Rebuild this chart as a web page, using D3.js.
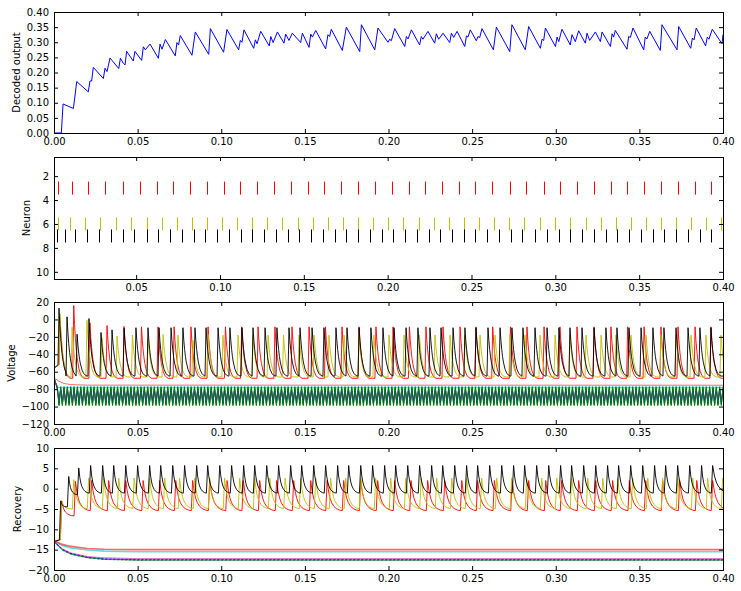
<!DOCTYPE html>
<html><head><meta charset="utf-8">
<script src="https://cdn.jsdelivr.net/npm/d3@7"></script>
<style>
body{margin:0;background:#fff}
svg text{font-family:"DejaVu Sans",sans-serif}
</style>
</head><body>
<svg id="chart" width="741" height="591"></svg>
<script>
// ---------------- DATA ----------------
const X_DOMAIN = [0, 0.4];
const RASTER_X_DOMAIN = [0.001, 0.4];
const X_TICKS = [0, 0.05, 0.10, 0.15, 0.20, 0.25, 0.30, 0.35, 0.40];
const RASTER_X_TICKS = [0.05, 0.10, 0.15, 0.20, 0.25, 0.30, 0.35, 0.40];
const DECODED_Y_TICKS = [0, 0.05, 0.10, 0.15, 0.20, 0.25, 0.30, 0.35, 0.40];
const NEURON_Y_TICKS = [2, 4, 6, 8, 10];
const VOLT_Y_TICKS = [-120, -100, -80, -60, -40, -20, 0, 20];
const REC_Y_TICKS = [-20, -15, -10, -5, 0, 5, 10];
const Y_LABELS = ["Decoded output", "Neuron", "Voltage", "Recovery"];
const NEURON_COLORS = ["#0000ff","#008000","#ff0000","#00bfbf","#bf00bf","#bfbf00","#000000","#0000ff","#008000","#ff0000"];

// decoded output vertices [time, value]
const DECODED = [
[0,0],[0.0044,0],[0.0054,0.096],[0.0116,0.081],[0.0136,0.170],[0.0205,0.136],[0.0215,0.172],[0.0225,0.172],
[0.0235,0.217],[0.0295,0.180],[0.0305,0.214],[0.0317,0.203],[0.0335,0.248],[0.0387,0.213],[0.0397,0.247],
[0.0415,0.230],[0.0425,0.225],[0.0434,0.270],[0.0474,0.238],[0.0484,0.270],[0.0524,0.240],[0.0534,0.285],
[0.0546,0.275],[0.0574,0.294],[0.0624,0.247],[0.0634,0.294],[0.0646,0.277],[0.0666,0.309],[0.0725,0.255],
[0.0735,0.299],[0.0745,0.291],[0.0755,0.322],[0.0825,0.257],[0.0845,0.334],[0.0925,0.260],[0.0935,0.345],
[0.1014,0.267],[0.1034,0.342],[0.1104,0.275],[0.1114,0.306],[0.1124,0.300],[0.1136,0.341],[0.1194,0.280],
[0.1204,0.308],[0.1214,0.295],[0.1236,0.336],[0.1287,0.288],[0.1296,0.319],[0.1310,0.299],[0.1336,0.334],
[0.1375,0.297],[0.1385,0.327],[0.1405,0.306],[0.1425,0.330],[0.1475,0.299],[0.1485,0.330],[0.1525,0.283],
[0.1535,0.327],[0.1545,0.317],[0.1565,0.339],[0.1624,0.278],[0.1638,0.325],[0.1648,0.319],[0.1658,0.343],
[0.1724,0.273],[0.1748,0.350],[0.1828,0.269],[0.1838,0.358],[0.1918,0.275],[0.1937,0.347],[0.1997,0.300],
[0.2007,0.310],[0.2017,0.305],[0.2037,0.345],[0.2097,0.286],[0.2107,0.319],[0.2117,0.311],[0.2137,0.341],
[0.2186,0.291],[0.2196,0.319],[0.2206,0.310],[0.2236,0.336],[0.2276,0.297],[0.2286,0.328],[0.2300,0.310],
[0.2326,0.330],[0.2366,0.299],[0.2376,0.330],[0.2390,0.316],[0.2410,0.336],[0.2456,0.286],[0.2466,0.321],
[0.2475,0.317],[0.2489,0.341],[0.2525,0.305],[0.2535,0.319],[0.2545,0.315],[0.2559,0.345],[0.2627,0.275],
[0.2645,0.350],[0.2725,0.269],[0.2738,0.358],[0.2818,0.275],[0.2838,0.352],[0.2908,0.280],[0.2918,0.310],
[0.2928,0.306],[0.2938,0.347],[0.2998,0.286],[0.3008,0.317],[0.3018,0.302],[0.3037,0.343],[0.3087,0.291],
[0.3097,0.325],[0.3117,0.302],[0.3137,0.338],[0.3177,0.297],[0.3187,0.330],[0.3203,0.306],[0.3237,0.334],
[0.3267,0.302],[0.3277,0.334],[0.3327,0.286],[0.3337,0.328],[0.3346,0.317],[0.3356,0.339],[0.3426,0.277],
[0.3436,0.319],[0.3446,0.316],[0.3462,0.347],[0.3526,0.275],[0.3535,0.317],[0.3545,0.311],[0.3562,0.336],
[0.3625,0.273],[0.3635,0.358],[0.3725,0.275],[0.3735,0.352],[0.3807,0.280],[0.3817,0.314],[0.3827,0.308],
[0.3840,0.347],[0.3896,0.288],[0.3906,0.317],[0.3916,0.310],[0.3936,0.343],[0.3994,0.295],[0.4000,0.325]
];

// spike times read from the raster (neuron 3 red, 6 yellow, 7 black)
const SPIKES_N3 = [0.0036,0.0118,0.0215,0.0317,0.0419,0.0523,0.0622,0.0718,0.0819,0.0921,0.1025,0.1122,
 0.1220,0.1321,0.1423,0.1525,0.1623,0.1722,0.1824,0.1925,0.2027,0.2125,0.2224,0.2326,0.2428,0.2523,0.2623,
 0.2729,0.2828,0.2930,0.3025,0.3127,0.3229,0.3330,0.3430,0.3528,0.3629,0.3731,0.3833,0.3928];
const SPIKES_N6 = [0.0036,0.0108,0.0197,0.0287,0.0377,0.0469,0.0562,0.0652,0.0741,0.0831,0.0921,0.1010,0.1100,
 0.1190,0.1280,0.1372,0.1465,0.1555,0.1644,0.1734,0.1824,0.1913,0.2003,0.2093,0.2185,0.2278,0.2368,0.2457,
 0.2547,0.2637,0.2726,0.2816,0.2906,0.2996,0.3085,0.3181,0.3271,0.3360,0.3450,0.3540,0.3629,0.3719,0.3809,
 0.3898,0.3988];
const SPIKES_N7 = [0.0030,0.0078,0.0138,0.0209,0.0281,0.0347,0.0419,0.0490,0.0562,0.0628,0.0700,0.0771,0.0843,
 0.0909,0.0981,0.1052,0.1124,0.1190,0.1262,0.1333,0.1405,0.1471,0.1543,0.1614,0.1686,0.1752,0.1824,0.1895,
 0.1967,0.2033,0.2105,0.2176,0.2248,0.2314,0.2386,0.2457,0.2523,0.2595,0.2667,0.2738,0.2804,0.2876,0.2948,
 0.3019,0.3085,0.3157,0.3229,0.3300,0.3366,0.3438,0.3510,0.3581,0.3647,0.3719,0.3791,0.3862,0.3928];

// voltage spike peaks (first spikes read individually, then steady value)
const V_PEAKS_N3 = [2, 16, -4, -7, -8];
const V_PEAKS_N6 = [6.5, -9, -1, -21, -19, -18, -22, -17, -18, -24, -17];
const V_PEAKS_N7 = [13, 3, -17, 1, -15, -12, -10];
const V_STEADY_PEAK = {3: -8.5, 6: -18, 7: -9.5};
const V_RESET = {3: -67.5, 6: -66, 7: -65};
const V_START = [-56, -52];
// voltage shape after a spike: [seconds after spike, fraction of height above reset]
const V_SPIKE_SHAPE = [[0,1],[0.0005,0.74],[0.001,0.55],[0.0015,0.40],[0.002,0.29],[0.003,0.14],[0.004,0.06],[0.005,0.02],[0.006,0]];

// recovery peaks/troughs for spiking neurons (first values read, then steady)
const U_PEAKS_N3 = [-3, 1.8], U_TROUGHS_N3 = [-6.7];
const U_PEAKS_N6 = [-3, 2.2], U_TROUGHS_N6 = [-5.0];
const U_PEAKS_N7 = [-3, 3.0, 5.1], U_TROUGHS_N7 = [-4.5, -1.5];
const U_STEADY = {3: [2.0, -5.4], 6: [2.6, -4.9], 7: [5.7, -1.1]};
// decay of recovery between spikes: [fraction of interval, fraction of height above trough]
const U_DECAY_SHAPE = [[0,1],[0.1,0.62],[0.2,0.4],[0.3,0.26],[0.45,0.14],[0.6,0.07],[0.8,0.02],[1,0]];

// non-spiking neurons, voltage: fast alternation between two levels (1 ms samples)
const V_OSC = [
  {id:1, hi:-79, lo:-96},
  {id:2, hi:-78, lo:-98},
  {id:4, hi:-76.5, lo:-79},
  {id:5, hi:-82, lo:-92},
  {id:8, hi:-80, lo:-97},
  {id:9, hi:-77.5, lo:-99}
];
const V_N10 = [[0,-67],[0.003,-71],[0.006,-73.5],[0.01,-74.8],[0.02,-75.4],[0.4,-75.5]];
// non-spiking neurons, recovery curves
const U_N1 = [[0,-13],[0.005,-15.0],[0.01,-16.0],[0.02,-16.9],[0.03,-17.3],[0.05,-17.5],[0.4,-17.5]];
const U_N2 = [[0,-13],[0.005,-15.1],[0.01,-16.1],[0.02,-17.0],[0.03,-17.4],[0.05,-17.6],[0.4,-17.6]];
const U_N4 = [[0,-13],[0.005,-14.0],[0.01,-14.6],[0.02,-15.1],[0.03,-15.35],[0.05,-15.5],[0.4,-15.5]];
const U_N5 = [[0,-13],[0.005,-14.8],[0.01,-15.8],[0.02,-16.7],[0.03,-17.0],[0.05,-17.2],[0.4,-17.2]];
const U_N8 = [[0,-13],[0.005,-14.9],[0.01,-15.9],[0.02,-16.85],[0.03,-17.25],[0.05,-17.45],[0.4,-17.45]];
const U_N9 = [[0,-13],[0.005,-15.1],[0.01,-16.1],[0.02,-17.0],[0.03,-17.4],[0.05,-17.55],[0.4,-17.55]];
const U_N10 = [[0,-12.8],[0.005,-13.7],[0.01,-14.2],[0.02,-14.7],[0.03,-14.9],[0.05,-15.0],[0.4,-15.0]];
const SAMPLE_DT = 0.001;

// ---------------- LAYOUT ----------------
const L = 54, R = 723;
const PANELS = [{top:12,bottom:133},{top:157,bottom:279},{top:302,bottom:424},{top:448,bottom:570}];
const LABEL_X = [16, 26, 11, 17.5];

const svg = d3.select("#chart");
const x = d3.scaleLinear().domain(X_DOMAIN).range([L, R]);
const xr = d3.scaleLinear().domain(RASTER_X_DOMAIN).range([L, R]);
const y0 = d3.scaleLinear().domain([0, 0.4]).range([PANELS[0].bottom, PANELS[0].top]);
const y1 = d3.scaleLinear().domain([0.4, 10.6]).range([PANELS[1].top, PANELS[1].bottom]);
const y2 = d3.scaleLinear().domain([-120, 20]).range([PANELS[2].bottom, PANELS[2].top]);
const y3 = d3.scaleLinear().domain([-20, 10]).range([PANELS[3].bottom, PANELS[3].top]);

const defs = svg.append("defs");
PANELS.forEach((p, i) => {
  defs.append("clipPath").attr("id", "clip" + i).append("rect")
    .attr("x", L + 0.5).attr("y", p.top + 0.5).attr("width", R - L).attr("height", p.bottom - p.top);
});

function drawAxes(i, xs, ys, xt, yt, xf, yf) {
  const p = PANELS[i];
  const g = svg.append("g");
  const style = sel => {
    sel.select(".domain").remove();
    sel.attr("font-family", "DejaVu Sans").attr("font-size", 10).attr("color", "#000");
    sel.selectAll("line").attr("stroke-width", 1);
  };
  g.append("g").attr("transform", `translate(0,${p.bottom})`)
    .call(d3.axisBottom(xs).tickValues(xt).tickFormat(xf).tickSize(-4).tickSizeOuter(0).tickPadding(5)).call(style);
  g.append("g").attr("transform", `translate(0,${p.top})`)
    .call(d3.axisTop(xs).tickValues(xt).tickFormat(() => "").tickSize(-4).tickSizeOuter(0)).call(style);
  g.append("g").attr("transform", `translate(${L},0)`)
    .call(d3.axisLeft(ys).tickValues(yt).tickFormat(yf).tickSize(-4).tickSizeOuter(0).tickPadding(5)).call(style);
  g.append("g").attr("transform", `translate(${R},0)`)
    .call(d3.axisRight(ys).tickValues(yt).tickFormat(() => "").tickSize(-4).tickSizeOuter(0)).call(style);
  g.append("rect").attr("x", L + 0.5).attr("y", p.top + 0.5).attr("width", R - L).attr("height", p.bottom - p.top)
    .attr("fill", "none").attr("stroke", "#000").attr("stroke-width", 1);
  svg.append("text").attr("transform", `translate(${LABEL_X[i]},${(p.top + p.bottom) / 2}) rotate(-90)`)
    .attr("text-anchor", "middle").attr("dominant-baseline", "central")
    .attr("font-size", 10).attr("fill", "#000").text(Y_LABELS[i]);
}

const f2 = d3.format(".2f");
const fi = d3.format("d");

// ---------- Panel 1: decoded output ----------
const line0 = d3.line().x(d => x(d[0])).y(d => y0(d[1]));
svg.append("g").attr("clip-path", "url(#clip0)").append("path").datum(DECODED)
  .attr("d", line0).attr("fill", "none").attr("stroke", "#0000ff").attr("stroke-width", 1);
drawAxes(0, x, y0, X_TICKS, DECODED_Y_TICKS, f2, f2);

// ---------- Panel 2: raster ----------
const rasterSets = [{id:3, t:SPIKES_N3}, {id:6, t:SPIKES_N6}, {id:7, t:SPIKES_N7}];
const rg = svg.append("g").attr("clip-path", "url(#clip1)");
rasterSets.forEach(s => {
  rg.selectAll(null).data(s.t).enter().append("line")
    .attr("x1", d => Math.round(xr(d)) + 0.5).attr("x2", d => Math.round(xr(d)) + 0.5)
    .attr("y1", y1(s.id) - 6.5).attr("y2", y1(s.id) + 6.5)
    .attr("stroke", NEURON_COLORS[s.id - 1]).attr("stroke-width", 1);
});
drawAxes(1, xr, y1, RASTER_X_TICKS, NEURON_Y_TICKS, f2, fi);

// ---------- trace builders ----------
function spikingVoltage(id, spikes, peaks) {
  const base = V_RESET[id];
  const pts = [[0, V_START[0]], [spikes[0] - 0.0006, V_START[1]]];
  spikes.forEach((ts, i) => {
    const pk = i < peaks.length ? peaks[i] : V_STEADY_PEAK[id];
    const next = i + 1 < spikes.length ? spikes[i + 1] - 0.0006 : 1;
    if (i > 0) pts.push([ts - 0.0006, base]);
    V_SPIKE_SHAPE.forEach(([dt, fr]) => {
      if (ts + dt < next) pts.push([ts + dt, base + fr * (pk - base)]);
    });
    pts.push([next, base]);
  });
  return pts;
}
function spikingRecovery(id, spikes, peaks, troughs) {
  const pts = [[0, -13], [spikes[0] + 0.0002, -12.6]];
  spikes.forEach((ts, i) => {
    const pk = i < peaks.length ? peaks[i] : U_STEADY[id][0];
    const tr = i < troughs.length ? troughs[i] : U_STEADY[id][1];
    const tp = ts + 0.001;
    const next = i + 1 < spikes.length ? spikes[i + 1] + 0.0002 : ts + 0.012;
    U_DECAY_SHAPE.forEach(([fr, s]) => pts.push([tp + fr * (next - tp), tr + s * (pk - tr)]));
  });
  return pts;
}
function oscillation(o) {
  const pts = [[0, -67], [SAMPLE_DT, -73]];
  const n = Math.round((X_DOMAIN[1] - X_DOMAIN[0]) / SAMPLE_DT);
  for (let k = 2; k <= n; k++) pts.push([k * SAMPLE_DT, k % 2 ? o.lo : o.hi]);
  return pts;
}

// ---------- Panel 3: voltage ----------
const line2 = d3.line().x(d => x(d[0])).y(d => y2(d[1]));
const vg = svg.append("g").attr("clip-path", "url(#clip2)");
const voltageTraces = {
  1: oscillation(V_OSC[0]), 2: oscillation(V_OSC[1]),
  3: spikingVoltage(3, SPIKES_N3, V_PEAKS_N3),
  4: oscillation(V_OSC[2]), 5: oscillation(V_OSC[3]),
  6: spikingVoltage(6, SPIKES_N6, V_PEAKS_N6),
  7: spikingVoltage(7, SPIKES_N7, V_PEAKS_N7),
  8: oscillation(V_OSC[4]), 9: oscillation(V_OSC[5]),
  10: V_N10
};
const V_OPACITY = {1:0.5, 2:0.85, 3:0.9, 4:0.7, 5:0.6, 6:0.9, 7:0.9, 8:0.5, 9:0.85, 10:0.6};
for (let id = 1; id <= 10; id++) {
  vg.append("path").datum(voltageTraces[id]).attr("d", line2).attr("fill", "none")
    .attr("stroke", NEURON_COLORS[id - 1]).attr("stroke-width", 1)
    .attr("stroke-opacity", V_OPACITY[id]);
}
drawAxes(2, x, y2, X_TICKS, VOLT_Y_TICKS, f2, fi);

// ---------- Panel 4: recovery ----------
const line3 = d3.line().x(d => x(d[0])).y(d => y3(d[1]));
const ug = svg.append("g").attr("clip-path", "url(#clip3)");
const recoveryTraces = {
  1: U_N1, 2: U_N2,
  3: spikingRecovery(3, SPIKES_N3, U_PEAKS_N3, U_TROUGHS_N3),
  4: U_N4, 5: U_N5,
  6: spikingRecovery(6, SPIKES_N6, U_PEAKS_N6, U_TROUGHS_N6),
  7: spikingRecovery(7, SPIKES_N7, U_PEAKS_N7, U_TROUGHS_N7),
  8: U_N8, 9: U_N9, 10: U_N10
};
for (let id = 1; id <= 10; id++) {
  const spiking = id === 3 || id === 6 || id === 7;
  const p = ug.append("path").datum(recoveryTraces[id]).attr("d", line3).attr("fill", "none")
    .attr("stroke", NEURON_COLORS[id - 1])
    .attr("stroke-width", id === 4 || id === 10 ? 1.6 : 1)
    .attr("stroke-opacity", spiking ? 0.9 : 0.6);
  if (id === 8 || id === 9) p.attr("stroke-dasharray", "2,2").attr("stroke-opacity", 0.8);
}
drawAxes(3, x, y3, X_TICKS, REC_Y_TICKS, f2, fi);
</script>
</body></html>
